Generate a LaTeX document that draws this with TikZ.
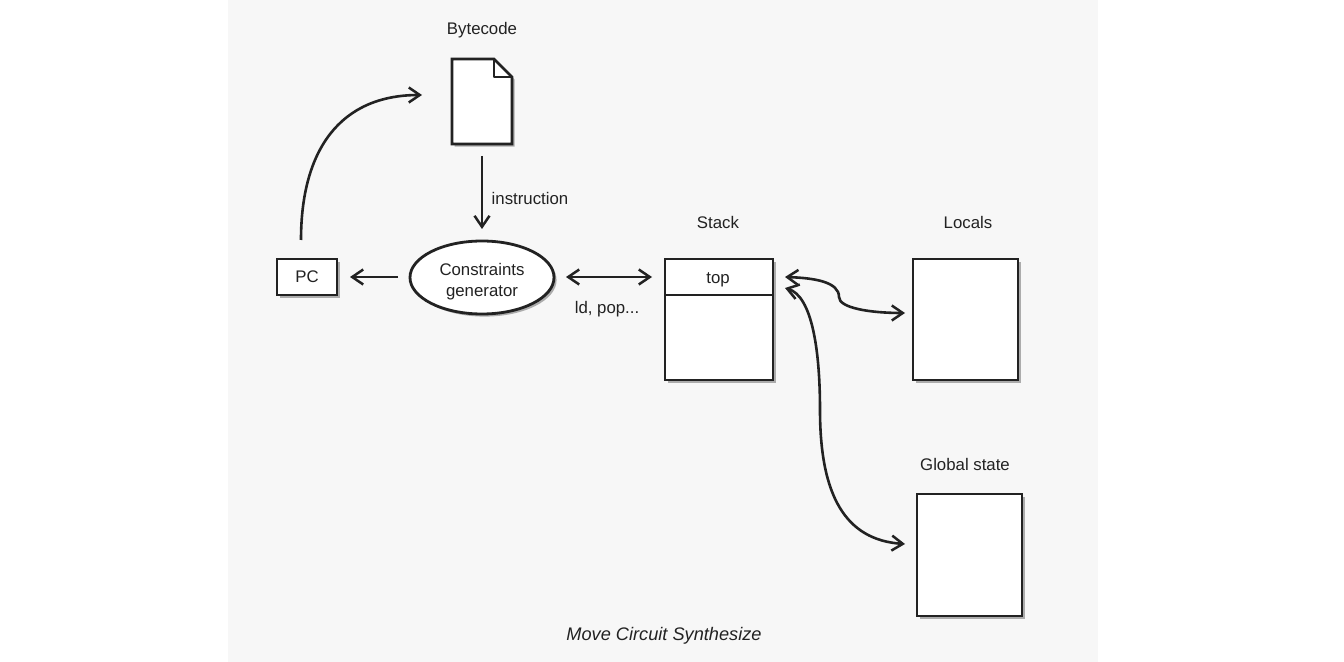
\documentclass[tikz,border=0pt]{standalone}
\usepackage{fontspec}
\setmainfont{Liberation Sans}
\usetikzlibrary{arrows.meta,shapes.geometric,shadows,positioning}
\definecolor{bgpanel}{HTML}{F7F7F7}
\definecolor{inkline}{HTML}{222222}
\definecolor{inktext}{HTML}{222222}
\tikzset{
  x=0.5pt,y=-0.5pt,
  softshadow/.style={drop shadow={shadow xshift=1.3pt,shadow yshift=-1.3pt,fill=black,opacity=0.3}},
  boxnode/.style={draw=inkline,fill=white,line width=1.4pt,inner sep=0pt,softshadow,text=inktext},
  label/.style={font=\fontsize{8.4}{10}\selectfont,text=inktext,inner sep=0pt,align=center},
  conn/.style={draw=inkline,line width=1.3pt,-{Straight Barb[length=5.5pt,width=7.5pt,line width=1.25pt]}},
  biconn/.style={draw=inkline,line width=1.3pt,{Straight Barb[length=5.5pt,width=7.5pt,line width=1.25pt]}-{Straight Barb[length=5.5pt,width=7.5pt,line width=1.25pt]}},
}
\begin{document}
\begin{tikzpicture}
\useasboundingbox (0,0) rectangle (1344,662);
\fill[bgpanel] (228,0) rectangle (1098,662);
% document shape
\path[boxnode] (452,59) -- (494,59) -- (512,77) -- (512,144) -- (452,144) -- cycle;
\draw[inkline,line width=1.2pt,line join=round] (494,59) -- (494,77) -- (512,77);
% nodes
\node[boxnode,minimum width=30pt,minimum height=18pt,font=\fontsize{8.4}{10}\selectfont] (pc) at (307,277) {PC};
\node[boxnode,ellipse,minimum width=72pt,minimum height=36.5pt] (gen) at (482,277.5) {};
\node[label] (gentext) at (482,281.5) {Constraints\\[0.5pt]generator};
\node[boxnode,minimum width=54pt,minimum height=60.5pt] (stackbody) at (719,319.5) {};
\draw[inkline,line width=1.2pt] (665,295) -- (773,295);
\node[label] (top) at (718,279.5) {top};
\node[boxnode,minimum width=52.5pt,minimum height=60.5pt] (locals) at (965.5,319.5) {};
\node[boxnode,minimum width=52.5pt,minimum height=61pt] (globalstate) at (969.5,555) {};
% labels
\node[label] (lbyte) at (482,30) {Bytecode};
\node[label] (linstr) at (530,198) {instruction};
\node[label] (lstack) at (718,222) {Stack};
\node[label] (llocals) at (968,222) {Locals};
\node[label] (lglobal) at (965,464) {Global state};
\node[label] (lld) at (607,309) {ld, pop...};
\node[label,font=\fontsize{9.1}{10}\selectfont\itshape] (caption) at (664,636) {Move Circuit Synthesize};
% connector ends
\coordinate (a1) at (301,240);
\coordinate (a2) at (422,95);
\coordinate (b1) at (482,156);
\coordinate (b2) at (482,229);
\coordinate (c1) at (398,277);
\coordinate (c2) at (350,277);
\coordinate (d1) at (566,277);
\coordinate (d2) at (652,277);
\coordinate (e1) at (785,277);
\coordinate (e2) at (905,313);
\coordinate (f1) at (785,288);
\coordinate (f2) at (905,544);
% connectors
\draw[conn] (a1) .. controls (301,150) and (340,95) .. (a2);
\draw[conn] (b1) -- (b2);
\draw[conn] (c1) -- (c2);
\draw[biconn] (d1) -- (d2);
\draw[biconn] (e1) .. controls (815,278) and (839,282) .. (839,297) .. controls (839,308) and (870,313) .. (e2);
\draw[biconn] (f1) .. controls (812,296) and (820,350) .. (820,410) .. controls (820,495) and (845,540) .. (f2);
\end{tikzpicture}
\end{document}
